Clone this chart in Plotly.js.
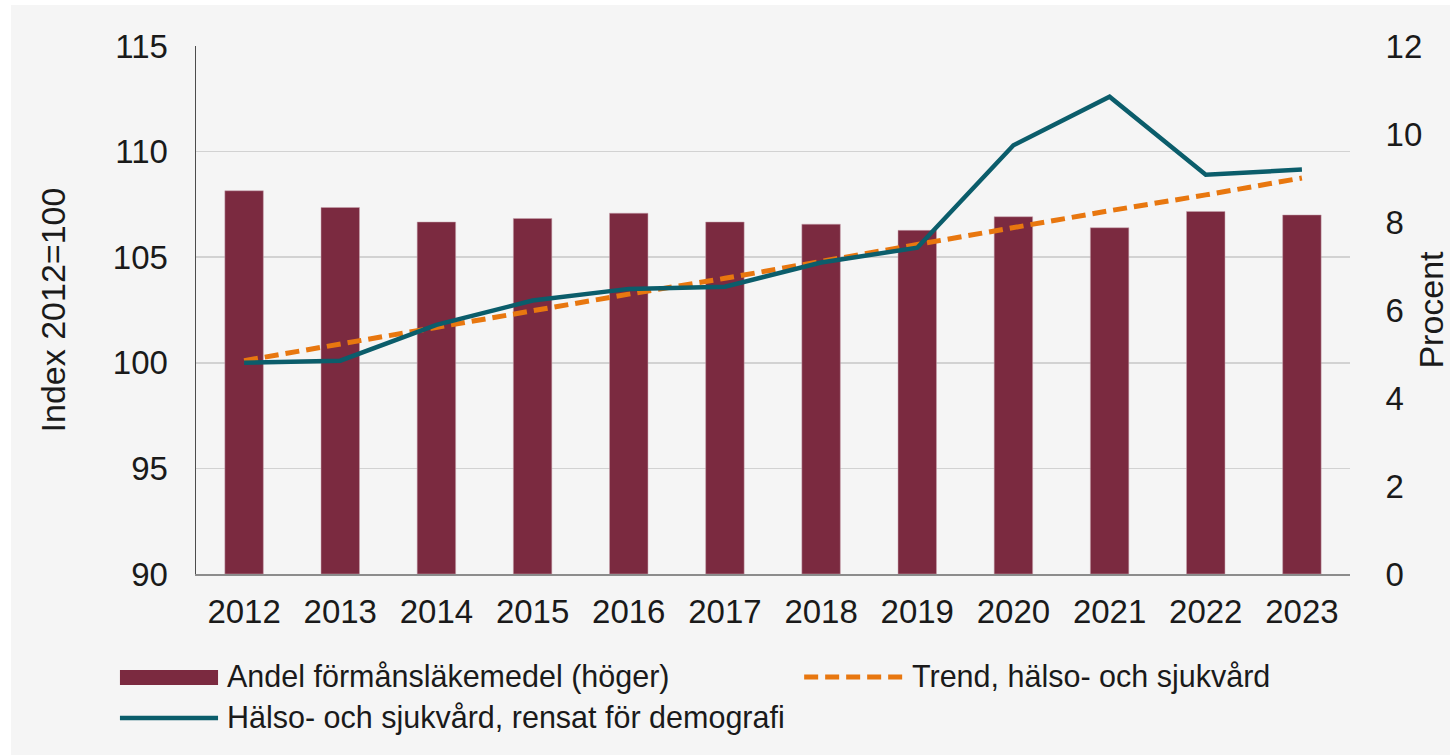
<!DOCTYPE html>
<html>
<head>
<meta charset="utf-8">
<script src="https://cdn.plot.ly/plotly-3.0.1.min.js"></script>
<style>
html,body{margin:0;padding:0;background:#ffffff;overflow:hidden;}
#chart{position:absolute;left:11px;top:5px;width:1439px;height:750px;}
</style>
</head>
<body>
<div id="chart"></div>
<script>
var years = ['2012','2013','2014','2015','2016','2017','2018','2019','2020','2021','2022','2023'];
var andelFormansLakemedel = [8.71, 8.33, 8.00, 8.08, 8.20, 8.00, 7.95, 7.81, 8.12, 7.87, 8.24, 8.16];
var trendHalsoSjukvard = [100.1, 100.9, 101.7, 102.45, 103.25, 104.0, 104.8, 105.6, 106.45, 107.2, 107.95, 108.75];
var halsoSjukvardRensat = [100.0, 100.1, 101.8, 102.95, 103.5, 103.6, 104.75, 105.45, 110.3, 112.6, 108.9, 109.15];
var leftTicks = [90, 95, 100, 105, 110, 115];
var rightTicks = [0, 2, 4, 6, 8, 10, 12];
var seriesNames = ['Andel förmånsläkemedel (höger)', 'Trend, hälso- och sjukvård', 'Hälso- och sjukvård, rensat för demografi'];

var font = 'Liberation Sans, Arial, sans-serif';
var txt = '#1a1a1a';
var barColor = '#7B2A40', trendColor = '#E8770F', lineColor = '#0B5D6B';

var traces = [
  {
    type: 'bar', name: seriesNames[0],
    x: years, y: andelFormansLakemedel, yaxis: 'y',
    marker: {color: barColor, line: {color: '#c9a5ae', width: 0.5}},
    width: 0.4
  },
  {
    type: 'scatter', mode: 'lines', name: seriesNames[1],
    x: years, y: trendHalsoSjukvard, yaxis: 'y2',
    line: {color: trendColor, width: 5, dash: '14px,7px'}
  },
  {
    type: 'scatter', mode: 'lines', name: seriesNames[2],
    x: years, y: halsoSjukvardRensat, yaxis: 'y2',
    line: {color: lineColor, width: 4.5}
  }
];

// custom legend (paper coordinates relative to the plot area)
var row1 = -0.195, row2 = -0.2727;
var shapes = [
  {type: 'rect', xref: 'paper', yref: 'paper', x0: -0.0659, x1: 0.0191, y0: -0.2102, y1: -0.1818,
   fillcolor: barColor, line: {width: 0}},
  {type: 'line', xref: 'paper', yref: 'paper', x0: 0.527, x1: 0.6153, y0: row1, y1: row1,
   line: {color: trendColor, width: 5, dash: '14px,7px'}},
  {type: 'line', xref: 'paper', yref: 'paper', x0: -0.0659, x1: 0.0191, y0: row2, y1: row2,
   line: {color: lineColor, width: 4.5}}
];
var legFont = {family: font, size: 30.5, color: txt};
var annotations = [
  {xref: 'paper', yref: 'paper', x: 0.0250, y: row1, xanchor: 'left', yanchor: 'middle', text: seriesNames[0], showarrow: false, font: legFont},
  {xref: 'paper', yref: 'paper', x: 0.6190, y: row1, xanchor: 'left', yanchor: 'middle', text: seriesNames[1], showarrow: false, font: legFont},
  {xref: 'paper', yref: 'paper', x: 0.0250, y: row2, xanchor: 'left', yanchor: 'middle', text: seriesNames[2], showarrow: false, font: legFont}
];

var layout = {
  width: 1439, height: 750,
  paper_bgcolor: '#f5f5f5', plot_bgcolor: '#f5f5f5',
  margin: {l: 185, r: 100, t: 41, b: 181},
  font: {family: font, color: txt, size: 30},
  showlegend: false,
  shapes: shapes,
  annotations: annotations,
  xaxis: {
    type: 'category', tickvals: years, ticktext: years,
    showline: true, linecolor: '#8c8c8c', linewidth: 1.5,
    ticks: 'outside', ticklen: 8, tickcolor: 'rgba(0,0,0,0)',
    tickfont: {family: font, size: 33, color: txt},
    showgrid: false, zeroline: false, fixedrange: true
  },
  yaxis: {
    side: 'right', range: [0, 12], tickvals: rightTicks,
    showgrid: false, zeroline: false, showline: false,
    ticks: 'outside', ticklen: 28, tickcolor: 'rgba(0,0,0,0)',
    tickfont: {family: font, size: 33, color: txt},
    title: {text: 'Procent', font: {family: font, size: 34, color: txt}, standoff: 26}
  },
  yaxis2: {
    side: 'left', overlaying: 'y', range: [90, 115], tickvals: leftTicks,
    showgrid: true, gridcolor: '#d2d2d2', gridwidth: 1.5,
    zeroline: false, showline: true, linecolor: '#4d4d4d', linewidth: 1.5,
    ticks: 'outside', ticklen: 20, tickcolor: 'rgba(0,0,0,0)',
    tickfont: {family: font, size: 33, color: txt},
    title: {text: 'Index 2012=100', font: {family: font, size: 34, color: txt}, standoff: 37}
  }
};

Plotly.newPlot('chart', traces, layout, {displayModeBar: false, staticPlot: true});
</script>
</body>
</html>
